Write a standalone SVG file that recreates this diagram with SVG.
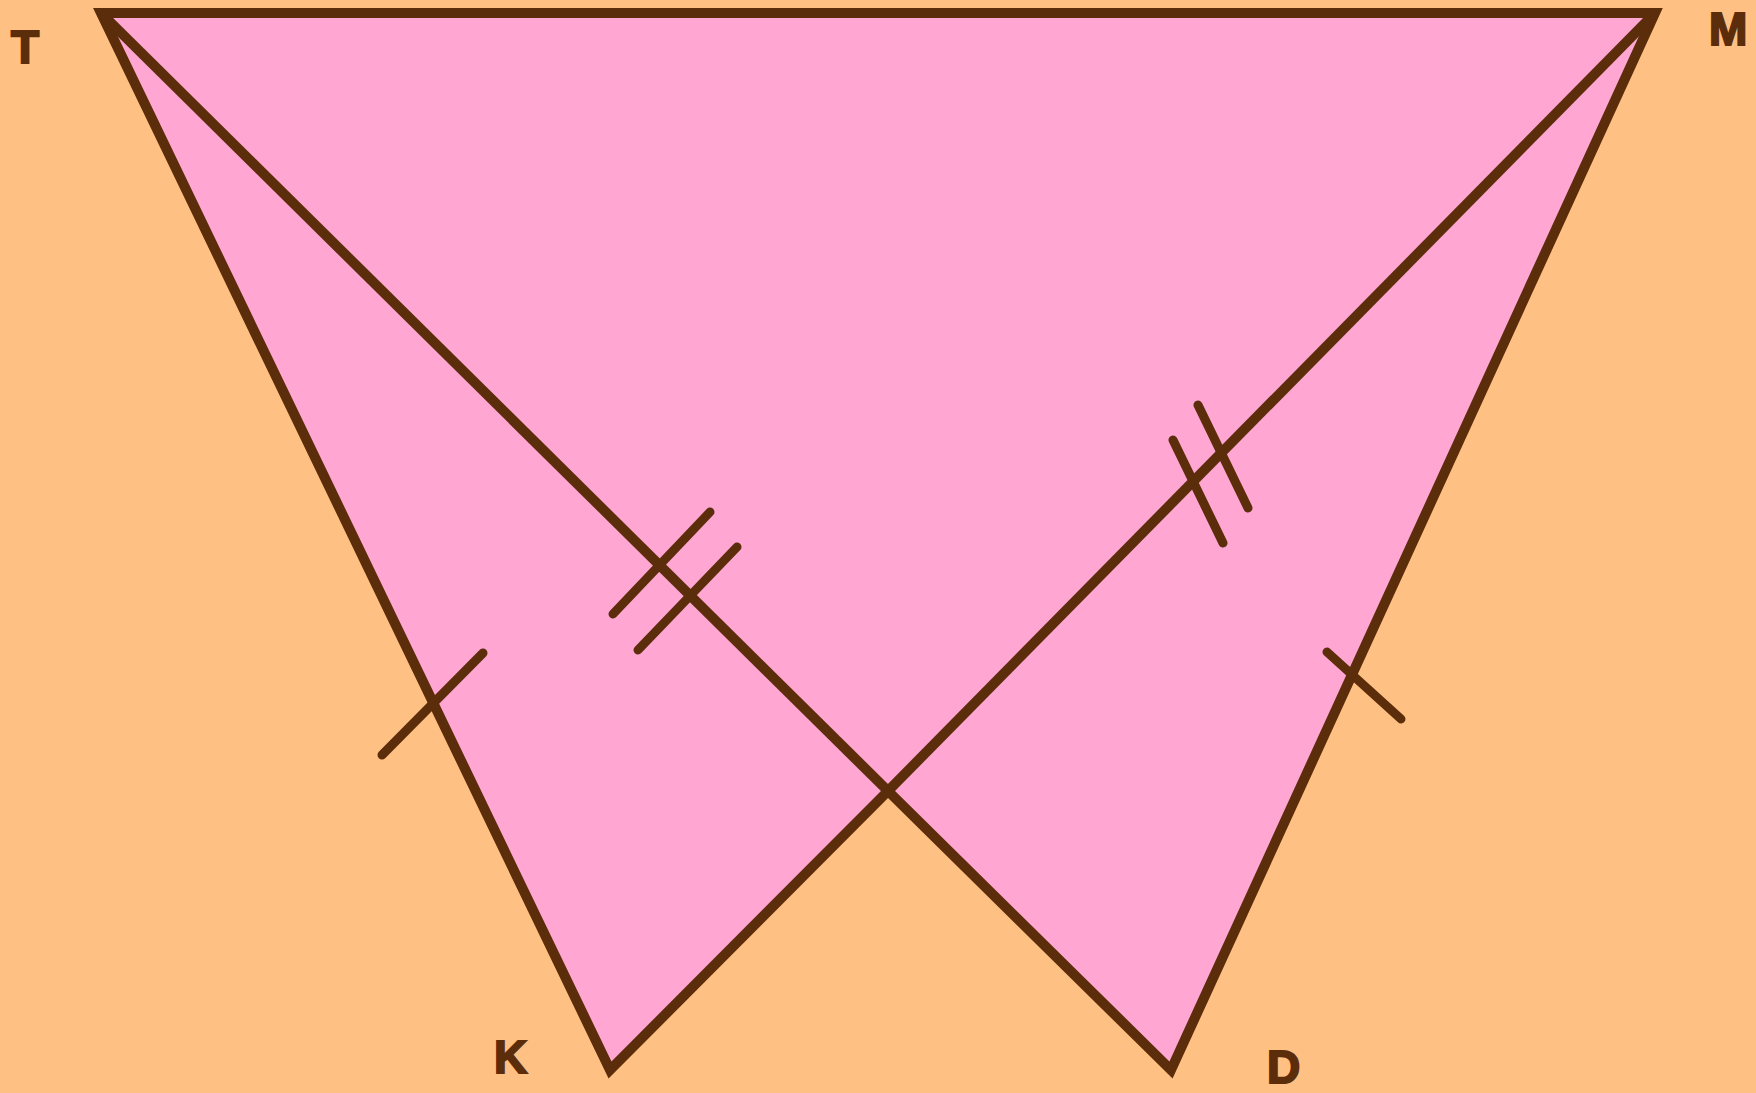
<svg xmlns="http://www.w3.org/2000/svg" width="1756" height="1093" viewBox="0 0 1756 1093">
  <style>
    .edge { fill: none; stroke: #5c2d0b; stroke-width: 10; stroke-linejoin: miter; stroke-miterlimit: 10; }
    .tick { fill: none; stroke: #5c2d0b; stroke-width: 9; stroke-linecap: round; }
    .lbl { font-family: "Liberation Sans", Arial, sans-serif; font-weight: bold; font-size: 46px; fill: #5c2d0b; stroke: #5c2d0b; stroke-width: 2; }
  </style>
  <rect width="1756" height="1093" fill="#ffc183"/>
  <g id="shape">
    <polygon points="101,13 1655,13 1171,1070 888,791 610,1070" fill="#ffa6d2"/>
  </g>
  <g id="connectors">
    <polygon class="edge" points="101,13 1655,13 1171,1070 888,791 610,1070"/>
    <line class="edge" x1="101" y1="13" x2="888" y2="791"/>
    <line class="edge" x1="1655" y1="13" x2="888" y2="791"/>
    <line class="tick" x1="710" y1="512" x2="613" y2="614"/>
    <line class="tick" x1="737" y1="547" x2="638" y2="650"/>
    <line class="tick" x1="1173" y1="440" x2="1223" y2="543"/>
    <line class="tick" x1="1198" y1="405" x2="1248" y2="508"/>
    <line class="tick" x1="483" y1="653" x2="382" y2="755"/>
    <line class="tick" x1="1327" y1="652" x2="1401" y2="719"/>
  </g>
  <g id="label-T"><text class="lbl" x="11" y="63">T</text></g>
  <g id="label-M"><text class="lbl" x="1709" y="45" textLength="44">M</text></g>
  <g id="label-K"><text class="lbl" x="494" y="1073">K</text></g>
  <g id="label-D"><text class="lbl" x="1267" y="1083">D</text></g>
</svg>
